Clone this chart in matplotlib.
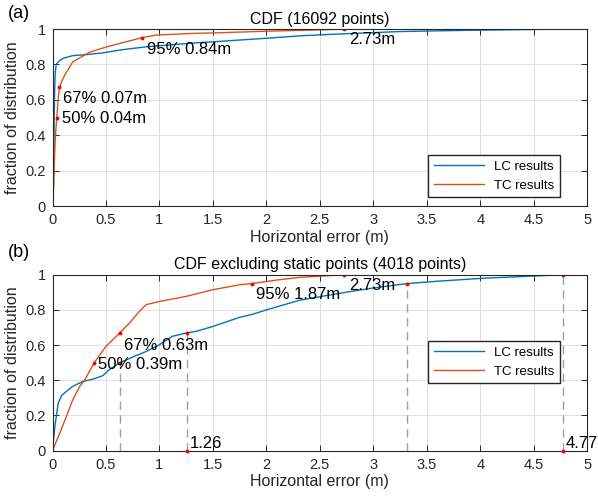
import matplotlib
matplotlib.use('Agg')
import matplotlib.pyplot as plt

plt.rcParams['font.family'] = ['Liberation Sans', 'DejaVu Sans']

# (a) all points
lc_a_x = [0, 0.008, 0.012, 0.016, 0.02, 0.025, 0.035, 0.05, 0.07, 0.1, 0.19, 0.32, 0.475, 0.66, 0.88,
          1.29, 1.6, 2.0, 2.32, 2.6, 3.0, 3.25, 3.6, 4.0, 4.4, 4.77]
lc_a_y = [0, 0.1, 0.3, 0.5, 0.65, 0.75, 0.8, 0.812, 0.824, 0.835, 0.85, 0.856, 0.866, 0.884, 0.9,
          0.92, 0.932, 0.948, 0.962, 0.97, 0.98, 0.986, 0.99, 0.994, 0.997, 1.0]
tc_a_x = [0, 0.01, 0.02, 0.03, 0.04, 0.055, 0.065, 0.09, 0.115, 0.19, 0.35, 0.51, 0.7, 0.84, 0.97,
          1.29, 1.6, 2.0, 2.4, 2.73]
tc_a_y = [0, 0.1, 0.3, 0.42, 0.5, 0.62, 0.67, 0.71, 0.74, 0.815, 0.87, 0.9, 0.93, 0.952, 0.966,
          0.975, 0.98, 0.988, 0.994, 1.0]

# (b) excluding static points
lc_b_x = [0, 0.01, 0.022, 0.053, 0.084, 0.13, 0.19, 0.286, 0.38, 0.47, 0.53, 0.63, 0.75, 0.876, 1.0,
          1.12, 1.26, 1.34, 1.5, 1.75, 1.87, 2.0, 2.31, 2.68, 3.0, 3.32, 3.6, 4.02, 4.4, 4.77]
lc_b_y = [0, 0.06, 0.138, 0.27, 0.313, 0.337, 0.366, 0.394, 0.407, 0.426, 0.46, 0.5, 0.532, 0.564,
          0.602, 0.65, 0.67, 0.678, 0.706, 0.758, 0.775, 0.80, 0.855, 0.894, 0.925, 0.95, 0.963,
          0.98, 0.99, 1.0]
tc_b_x = [0, 0.068, 0.13, 0.19, 0.255, 0.30, 0.39, 0.5, 0.63, 0.72, 0.81, 0.876, 1.0, 1.25, 1.5,
          1.75, 1.87, 2.1, 2.31, 2.5, 2.73]
tc_b_y = [0, 0.1, 0.195, 0.29, 0.366, 0.40, 0.5, 0.593, 0.67, 0.725, 0.79, 0.83, 0.848, 0.877,
          0.915, 0.943, 0.95, 0.97, 0.985, 0.992, 1.0]

# percentile marks
tc_a_pts_x = [0.04, 0.065, 0.84, 2.73]
tc_a_pts_y = [0.5, 0.67, 0.95, 1.0]
tc_a_labels = ['50% 0.04m', '67% 0.07m', '95% 0.84m', '2.73m']
tc_a_label_x = [0.086, 0.1, 0.88, 2.77]
tc_a_label_y = [0.495, 0.608, 0.885, 0.94]

tc_b_pts_x = [0.39, 0.63, 1.87, 2.73]
tc_b_pts_y = [0.5, 0.67, 0.95, 1.0]
tc_b_labels = ['50% 0.39m', '67% 0.63m', '95% 1.87m', '2.73m']
tc_b_label_x = [0.43, 0.67, 1.9, 2.77]
tc_b_label_y = [0.49, 0.6, 0.885, 0.94]

lc_b_pts_x = [0.63, 1.26, 3.32, 4.77]
lc_b_pts_y = [0.5, 0.67, 0.95, 1.0]
axis_labels = ['1.26', '4.77']
axis_label_x = [1.28, 4.8]

blue = '#0072BD'
orange = '#D95319'
dark = '#262626'

fig = plt.figure(figsize=(5.98, 4.97), dpi=100)
ax1 = fig.add_axes([0.0878, 0.5855, 0.894, 0.356])
ax2 = fig.add_axes([0.0878, 0.0932, 0.894, 0.354])


def style(ax, title):
    ax.set_xlim(0, 5)
    ax.set_ylim(0, 1)
    ax.set_xticks([0, 0.5, 1, 1.5, 2, 2.5, 3, 3.5, 4, 4.5, 5])
    ax.set_xticklabels(['0', '0.5', '1', '1.5', '2', '2.5', '3', '3.5', '4', '4.5', '5'])
    ax.set_yticks([0, 0.2, 0.4, 0.6, 0.8, 1])
    ax.set_yticklabels(['0', '0.2', '0.4', '0.6', '0.8', '1'])
    ax.grid(True, color='#dedede', lw=0.7)
    ax.set_axisbelow(True)
    for s in ax.spines.values():
        s.set_color(dark)
        s.set_linewidth(0.8)
    ax.tick_params(direction='in', length=4, width=0.7, colors=dark, labelsize=10.5,
                   top=True, right=True, pad=5)
    ax.set_xlabel('Horizontal error (m)', fontsize=11.5, color=dark, labelpad=2)
    ax.set_ylabel('fraction of distribution', fontsize=11.5, color=dark, labelpad=4)
    ax.set_title(title, fontsize=11.5, pad=4)


# top panel
ax1.plot(lc_a_x, lc_a_y, color=blue, lw=1.0, label='LC results')
ax1.plot(tc_a_x, tc_a_y, color=orange, lw=1.0, label='TC results')
ax1.plot(tc_a_pts_x, tc_a_pts_y, 'o', color='red', ms=2.8, mec='none')
for t, x, y in zip(tc_a_labels, tc_a_label_x, tc_a_label_y):
    ax1.text(x, y, t, fontsize=12, ha='left', va='center')
style(ax1, 'CDF (16092 points)')
ax1.legend(loc='lower right', bbox_to_anchor=(0.949, 0.051), borderaxespad=0, fancybox=False,
           edgecolor=dark, framealpha=1, fontsize=9.5, handlelength=3.8)

# bottom panel
for x, y in zip(lc_b_pts_x, lc_b_pts_y):
    ax2.plot([x, x], [0, y], color='#a0a0a0', lw=1.0, ls=(0, (6, 4)))
ax2.plot(lc_b_x, lc_b_y, color=blue, lw=1.0, label='LC results')
ax2.plot(tc_b_x, tc_b_y, color=orange, lw=1.0, label='TC results')
ax2.plot(tc_b_pts_x, tc_b_pts_y, 'o', color='red', ms=2.8, mec='none')
ax2.plot(lc_b_pts_x, lc_b_pts_y, 'o', color='red', ms=2.8, mec='none')
ax2.plot([1.26, 4.77], [0, 0], 'o', color='red', ms=2.8, mec='none', clip_on=False, zorder=5)
for t, x, y in zip(tc_b_labels, tc_b_label_x, tc_b_label_y):
    ax2.text(x, y, t, fontsize=12, ha='left', va='center')
for t, x in zip(axis_labels, axis_label_x):
    ax2.text(x, 0.04, t, fontsize=12, ha='left', va='center')
style(ax2, 'CDF excluding static points (4018 points)')
ax2.legend(loc='lower right', bbox_to_anchor=(0.949, 0.385), borderaxespad=0, fancybox=False,
           edgecolor=dark, framealpha=1, fontsize=9.5, handlelength=3.8)

fig.text(0.013, 0.972, '(a)', fontsize=13, va='center')
fig.text(0.013, 0.492, '(b)', fontsize=13, va='center')

fig.savefig('out.png', dpi=100)
